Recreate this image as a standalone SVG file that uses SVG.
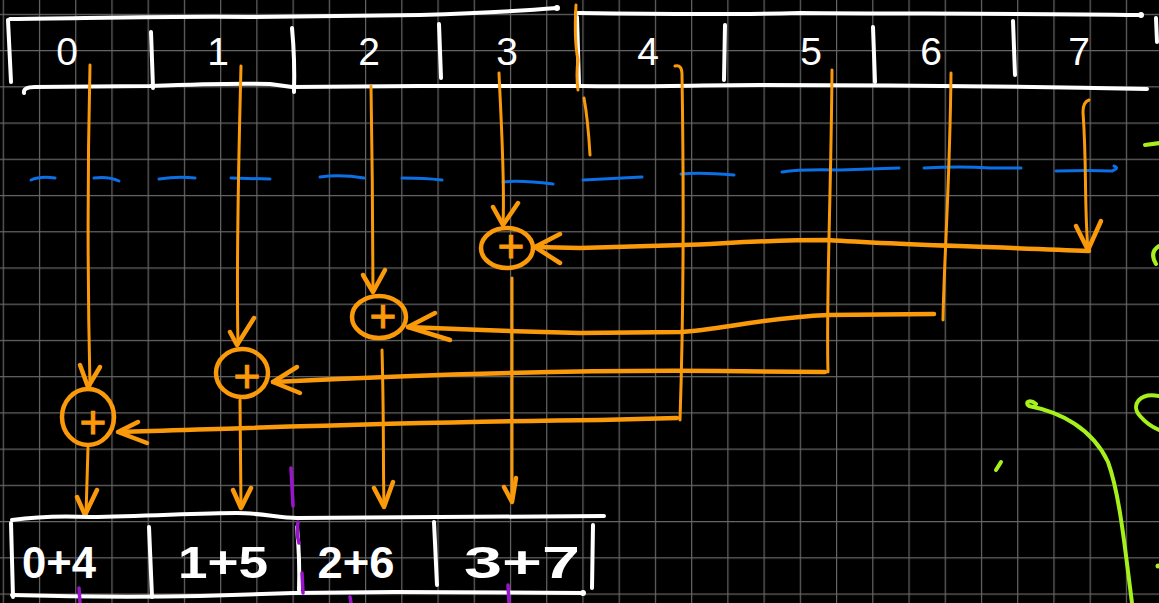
<svg xmlns="http://www.w3.org/2000/svg" width="1159" height="603" viewBox="0 0 1159 603">
<defs>
<pattern id="gridpat" patternUnits="userSpaceOnUse" x="2.7" y="13.8" width="36.23" height="36.23">
<path d="M0.6,0 V36.23 M0,0.6 H36.23" stroke="#666666" stroke-width="1.2" fill="none"/>
</pattern>
</defs>
<style>
.w{stroke:#ffffff;fill:none;stroke-width:4;stroke-linecap:round;stroke-linejoin:round}
.o{stroke:#fa9a0a;fill:none;stroke-width:3;stroke-linecap:round;stroke-linejoin:round}
.oh{stroke:#fa9a0a;fill:none;stroke-width:4.5;stroke-linecap:round;stroke-linejoin:round}
.b{stroke:#0b6fe6;fill:none;stroke-width:3;stroke-linecap:round}
.g{stroke:#a6f01c;fill:none;stroke-width:4;stroke-linecap:round;stroke-linejoin:round}
.p{stroke:#9a14cc;fill:none;stroke-width:3.5;stroke-linecap:round}
.d{font-family:"Liberation Sans","DejaVu Sans",sans-serif;font-size:39px;fill:#ffffff;text-anchor:middle}
.r{font-family:"Liberation Sans","DejaVu Sans",sans-serif;font-size:44px;font-weight:bold;fill:#ffffff;text-anchor:middle}
.plus{font-family:"Liberation Sans","DejaVu Sans",sans-serif;font-size:46px;fill:#fa9a0a;text-anchor:middle;stroke:#fa9a0a;stroke-width:1}
</style>
<rect width="1159" height="603" fill="#000"/>
<g id="grid"><rect width="1159" height="603" fill="url(#gridpat)"/></g>

<g id="input-array">
<path class="w" d="M10,19 C100,18 180,16 250,17 C320,16 383,15 420,15 C480,13 520,11 557,8"/>
<circle cx="557" cy="8" r="3" fill="#fff"/>
<path class="w" d="M576,13 C650,14 720,15 800,13 C900,14 1000,13 1141,15"/>
<circle cx="1141" cy="15" r="3" fill="#fff"/>
<path class="w" d="M24,93 Q23,87 35,87 L150,86 C200,84 240,83 270,84 L292,87 L420,86 L580,86 C650,87 700,85 760,85 C900,85 1000,86 1147,89"/>
<path class="w" d="M8,20 L11,82"/>
<path class="w" d="M151,32 L153,88"/>
<path class="w" d="M292,28 Q295,60 294,92"/>
<path class="w" d="M439,24 L441,78"/>
<path class="w" d="M577,17 L579,84"/>
<path class="w" d="M725,25 L724,80"/>
<path class="w" d="M873,27 L875,82"/>
<path class="w" d="M1013,21 L1015,75"/>
<path class="w" d="M1156,18 L1157,42"/>
<g id="cell-0"><text class="d" x="67" y="65">0</text></g>
<g id="cell-1"><text class="d" x="218" y="65">1</text></g>
<g id="cell-2"><text class="d" x="369" y="65">2</text></g>
<g id="cell-3"><text class="d" x="507" y="65">3</text></g>
<g id="cell-4"><text class="d" x="648" y="65">4</text></g>
<g id="cell-5"><text class="d" x="811" y="65">5</text></g>
<g id="cell-6"><text class="d" x="931" y="65">6</text></g>
<g id="cell-7"><text class="d" x="1079" y="65">7</text></g>
</g>

<g id="half-divider">
<path class="b" d="M31,180 Q40,176 55,178"/>
<path class="b" d="M94,178 Q108,176 119,181"/>
<path class="b" d="M159,179 Q178,176 195,178"/>
<path class="b" d="M231,178 L270,179"/>
<path class="b" d="M320,177 Q340,174 364,178"/>
<path class="b" d="M402,178 Q425,178 442,180"/>
<path class="b" d="M503,182 Q520,180 553,184"/>
<path class="b" d="M583,180 L642,177"/>
<path class="b" d="M681,174 Q700,172 734,175"/>
<path class="b" d="M782,172 Q800,169 840,170 Q870,169 899,168"/>
<path class="b" d="M924,168 Q960,166 990,168 L1021,168"/>
<path class="b" d="M1056,171 Q1090,170 1112,171 Q1120,168 1114,166"/>
</g>

<g id="adder-3">
<ellipse class="oh" cx="507" cy="248" rx="26" ry="20"/>
<text class="plus" x="511" y="262">+</text>
</g>
<g id="adder-2">
<ellipse class="oh" cx="379" cy="317" rx="27" ry="21"/>
<text class="plus" x="383" y="332">+</text>
</g>
<g id="adder-1">
<ellipse class="oh" cx="242" cy="373" rx="26" ry="24"/>
<text class="plus" x="247" y="392">+</text>
</g>
<g id="adder-0">
<ellipse class="oh" cx="88" cy="417" rx="26" ry="28"/>
<text class="plus" x="93" y="438">+</text>
</g>

<g id="connectors">
<path class="o" d="M90,65 C88,150 87,260 90,386"/>
<path class="oh" d="M80,365 L88,387 L100,367"/>
<path class="o" d="M241,66 C239,150 236,250 238,345"/>
<path class="oh" d="M230,332 L237,345 L254,318"/>
<path class="o" d="M371,86 C372,150 373,230 373,291"/>
<path class="oh" d="M363,275 L373,292 L385,270"/>
<path class="o" d="M499,73 C501,120 505,180 503,225"/>
<path class="oh" d="M493,207 L503,225 L518,203"/>

<path class="o" d="M675,66 Q682,64 682,75 C684,200 683,330 680,420"/>
<path class="oh" d="M677,418 L600,420 C400,422 250,428 120,432"/>
<path class="oh" d="M138,422 L118,432 L147,443"/>
<path class="o" d="M832,70 C831,200 826,300 828,372"/>
<path class="oh" d="M825,372 L720,371 C600,370 450,373 273,382"/>
<path class="oh" d="M297,367 L273,382 L300,393"/>
<path class="o" d="M951,73 C950,180 944,260 943,320"/>
<path class="oh" d="M934,314 L828,315 C760,318 720,330 680,332 L580,333 C500,331 450,329 408,327"/>
<path class="oh" d="M435,313 L408,327 L450,340"/>
<path class="o" d="M1089,100 Q1083,102 1083,112 C1087,170 1084,200 1088,250"/>
<path class="oh" d="M1089,251 C1000,247 900,245 828,240 C760,240 720,244 683,245 L580,248 L535,247"/>
<path class="oh" d="M1076,226 L1088,250 L1101,221"/>
<path class="oh" d="M560,234 L535,247 L560,263"/>

<path class="o" d="M88,448 L86,515"/>
<path class="oh" d="M77,497 L85,515 L97,490"/>
<path class="o" d="M240,400 L241,508"/>
<path class="oh" d="M233,490 L241,508 L251,488"/>
<path class="o" d="M382,350 C384,420 383,460 384,507"/>
<path class="oh" d="M374,488 L384,507 L393,482"/>
<path class="o" d="M512,278 L512,502"/>
<path class="oh" d="M504,487 L512,502 L516,478"/>

<path class="o" d="M576,5 Q574,40 578,60 Q576,75 578,90"/>
<path class="o" d="M584,98 Q588,120 590,155"/>
</g>

<g id="output-array">
<path class="w" d="M12,520 C40,516 70,516 90,517 C150,516 200,513 237,513 C260,513 280,518 297,518 L604,516"/>
<path class="w" d="M12,595 C80,597 150,597 200,596 L293,593 L395,592 L583,593"/>
<circle cx="583" cy="593" r="3" fill="#fff"/>
<path class="w" d="M11,523 L13,597"/>
<path class="w" d="M149,527 L152,597"/>
<path class="w" d="M297,527 Q300,560 299,590"/>
<path class="w" d="M434,522 L437,585"/>
<path class="w" d="M593,525 L592,588"/>
<g id="out-0"><text class="r" x="59" y="578" textLength="74" lengthAdjust="spacingAndGlyphs">0+4</text></g>
<g id="out-1"><text class="r" x="223" y="578" textLength="90" lengthAdjust="spacingAndGlyphs">1+5</text></g>
<g id="out-2"><text class="r" x="356" y="578" textLength="77" lengthAdjust="spacingAndGlyphs">2+6</text></g>
<g id="out-3"><text class="r" x="522" y="578" textLength="116" lengthAdjust="spacingAndGlyphs">3+7</text></g>
</g>

<g id="annotations">
<path class="p" d="M291,468 L293,506"/>
<path class="p" d="M298,522 Q296,532 299,543"/>
<path class="p" d="M302,573 L303,593"/>
<path class="p" d="M79,588 L80,603"/>
<path class="p" d="M350,597 L351,603"/>
<path class="p" d="M508,585 L509,603"/>
<path class="g" stroke-width="6" d="M1145,145 L1160,143"/>
<path class="g" d="M1159,246 Q1149,252 1156,264"/>
<path class="g" d="M1159,396 C1140,392 1130,405 1140,416 C1146,423 1152,427 1159,430"/>
<circle cx="1158" cy="566" r="2.5" fill="#a6f01c"/>
<path class="g" d="M1036,404 C1030,399 1024,402 1029,406 C1060,412 1092,428 1108,462 C1120,495 1125,550 1132,603"/>
<path class="g" stroke-width="2" d="M996,470 L1001,462"/>
</g>
</svg>
